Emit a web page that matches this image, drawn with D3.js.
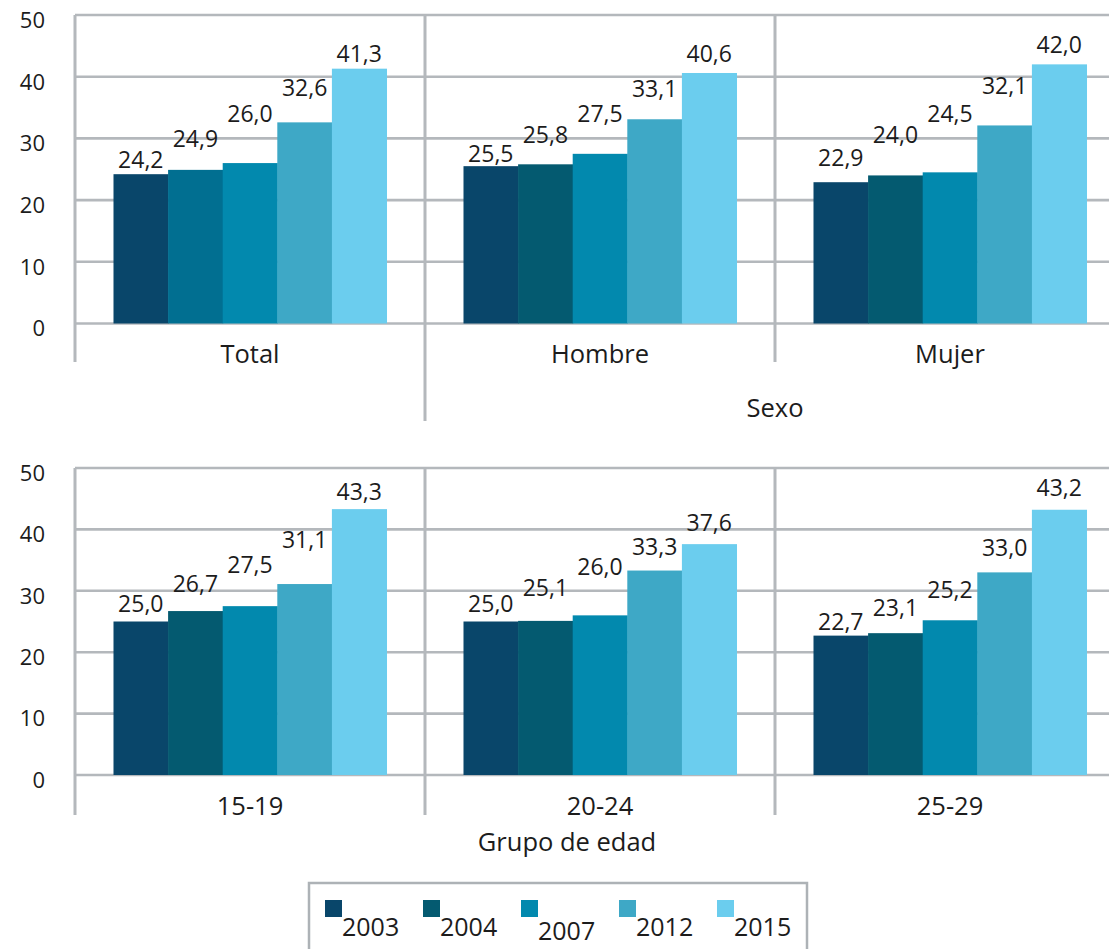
<!DOCTYPE html>
<html>
<head>
<meta charset="utf-8">
<script src="https://cdn.jsdelivr.net/npm/d3@7"></script>
<style>
  html, body { margin: 0; padding: 0; background: #ffffff; }
  svg { display: block; }
  text { font-family: "Open Sans", Lato, sans-serif; fill: #1c1c1c; }
</style>
</head>
<body>
<svg id="chart" width="1109" height="949"></svg>
<script>
// ---------------- DATA ----------------
const years = ["2003", "2004", "2007", "2012", "2015"];
const sexCategories = ["Total", "Hombre", "Mujer"];
const ageCategories = ["15-19", "20-24", "25-29"];
const totalValues  = [24.2, 24.9, 26.0, 32.6, 41.3];
const hombreValues = [25.5, 25.8, 27.5, 33.1, 40.6];
const mujerValues  = [22.9, 24.0, 24.5, 32.1, 42.0];
const age1519Values = [25.0, 26.7, 27.5, 31.1, 43.3];
const age2024Values = [25.0, 25.1, 26.0, 33.3, 37.6];
const age2529Values = [22.7, 23.1, 25.2, 33.0, 43.2];
const yTicks = [0, 10, 20, 30, 40, 50];
const sexParentLabel = "Sexo";
const ageAxisTitle = "Grupo de edad";

// ---------------- STYLE ----------------
const colors = ["#09466a", "#045a70", "#0289ae", "#3ea8c6", "#6bcdee"];
const colorOverrides = { "Total|2004": "#016f91" };
const gridColor = "#b4b8bc";
// label lift above bar top (px), per category / series
const labelLift = {
  "Total":  [6, 23, 41, 26, 7],
  "Hombre": [4, 21, 32, 22, 11],
  "Mujer":  [16, 32, 50, 31, 11],
  "15-19":  [10, 19, 33, 36, 9],
  "20-24":  [10, 25, 40, 16, 13],
  "25-29":  [6, 17, 22, 16, 14]
};

const W = 1109;
const svg = d3.select("#chart");
const fmt = v => d3.format(".1f")(v).replace(".", ",");

function drawPanel(cfg) {
  const g = svg.append("g");
  const y = d3.scaleLinear().domain([0, 50]).range([cfg.y0, cfg.y1]);
  const x = d3.scaleBand().domain(cfg.categories).range([75, 1125]).paddingInner(0).paddingOuter(0);
  const xs = d3.scaleBand().domain(years).range([0, x.bandwidth()]).paddingInner(0).paddingOuter(0.705);

  // gridlines
  g.selectAll("line.grid").data(yTicks).join("line")
    .attr("x1", 75).attr("x2", W)
    .attr("y1", d => y(d)).attr("y2", d => y(d))
    .attr("stroke", gridColor).attr("stroke-width", 2.6);

  // tick labels
  g.selectAll("text.tick").data(yTicks).join("text")
    .attr("x", 45).attr("y", d => y(d) + 7)
    .attr("text-anchor", "end").attr("dominant-baseline", "middle")
    .attr("font-size", 22)
    .text(d => d);

  // vertical dividers
  const bounds = cfg.categories.map((c, i) => ({ x: x(c), bottom: cfg.dividerBottoms[i] }));
  g.selectAll("line.div").data(bounds).join("line")
    .attr("x1", d => d.x).attr("x2", d => d.x)
    .attr("y1", cfg.y1).attr("y2", d => d.bottom)
    .attr("stroke", gridColor).attr("stroke-width", 3);

  // bars
  cfg.categories.forEach((c, ci) => {
    const vals = cfg.values[ci];
    const gg = g.append("g").attr("transform", `translate(${x(c)},0)`);
    gg.selectAll("rect").data(vals).join("rect")
      .attr("x", (d, i) => xs(years[i]))
      .attr("width", xs.bandwidth() + 0.5)
      .attr("y", d => y(d))
      .attr("height", d => y(0) - y(d))
      .attr("fill", (d, i) => colorOverrides[c + "|" + years[i]] || colors[i]);
    gg.selectAll("text").data(vals).join("text")
      .attr("x", (d, i) => xs(years[i]) + xs.bandwidth() / 2)
      .attr("y", (d, i) => y(d) - labelLift[c][i])
      .attr("text-anchor", "middle")
      .attr("font-size", 23)
      .text(d => fmt(d));
  });

  // category labels
  g.selectAll("text.cat").data(cfg.categories).join("text")
    .attr("x", d => x(d) + x.bandwidth() / 2)
    .attr("y", cfg.catBaseline)
    .attr("text-anchor", "middle")
    .attr("font-size", 25.5)
    .text(d => d);
  return x;
}

const xTop = drawPanel({
  categories: sexCategories,
  values: [totalValues, hombreValues, mujerValues],
  y0: 323.5, y1: 15,
  dividerBottoms: [362, 421, 362],
  catBaseline: 363
});
svg.append("text")
  .attr("x", (xTop("Hombre") + xTop("Mujer") + xTop.bandwidth()) / 2)
  .attr("y", 417).attr("text-anchor", "middle").attr("font-size", 25.5)
  .text(sexParentLabel);

drawPanel({
  categories: ageCategories,
  values: [age1519Values, age2024Values, age2529Values],
  y0: 775, y1: 468,
  dividerBottoms: [815, 815, 815],
  catBaseline: 815
});
svg.append("text")
  .attr("x", 567).attr("y", 851).attr("text-anchor", "middle").attr("font-size", 25.5)
  .text(ageAxisTitle);

// legend
const lg = svg.append("g");
lg.append("rect").attr("x", 309).attr("y", 883).attr("width", 498).attr("height", 90)
  .attr("fill", "#fff").attr("stroke", "#adb2b6").attr("stroke-width", 2.5);
const lx = d3.scaleLinear().domain([0, years.length - 1]).range([325, 717]);
lg.selectAll("rect.sw").data(years).join("rect")
  .attr("x", (d, i) => lx(i)).attr("y", 900).attr("width", 17).attr("height", 17)
  .attr("fill", (d, i) => colors[i]);
lg.selectAll("text").data(years).join("text")
  .attr("x", (d, i) => lx(i) + 17).attr("y", (d, i) => i === 2 ? 940 : 936)
  .attr("font-size", 25)
  .text(d => d);
</script>
</body>
</html>
